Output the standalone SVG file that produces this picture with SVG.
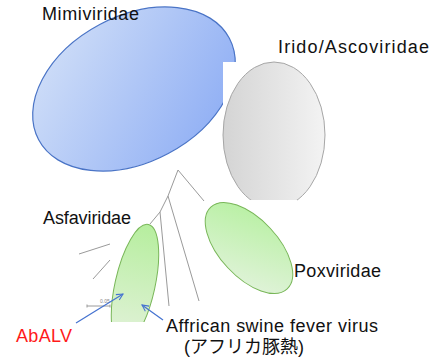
<svg xmlns="http://www.w3.org/2000/svg" width="431" height="359" viewBox="0 0 431 359">
<style>
.lbl{font-family:"Liberation Sans","Noto Sans CJK JP",Arial,sans-serif;font-size:18px;fill:#111}
.tree{stroke:#9a9a9a;stroke-width:1;fill:none}
.arr{stroke:#4472d0;stroke-width:1.2;fill:none;marker-end:url(#ah)}
</style>
<defs>
<linearGradient id="gBlue" x1="0" y1="0" x2="1" y2="1">
<stop offset="0" stop-color="#d6e3f8"/><stop offset="1" stop-color="#88a9f4"/>
</linearGradient>
<linearGradient id="gGrey" x1="0" y1="0" x2="1" y2="0">
<stop offset="0" stop-color="#d4d4d4"/><stop offset="1" stop-color="#f3f3f3"/>
</linearGradient>
<linearGradient id="gPox" x1="0" y1="0" x2="1" y2="1">
<stop offset="0" stop-color="#b3f09c"/><stop offset="1" stop-color="#e6f3e1"/>
</linearGradient>
<linearGradient id="gAsfa" x1="0" y1="0" x2="0" y2="1">
<stop offset="0" stop-color="#b6ee9e"/><stop offset="1" stop-color="#e4f2dc"/>
</linearGradient>
<clipPath id="cBlue"><path d="M0 0H431V62H223V359H0Z"/></clipPath>
<clipPath id="cGrey"><path d="M0 0H431V359H297V200H196V359H0Z"/></clipPath>
<clipPath id="cAsfa"><rect x="0" y="0" width="431" height="322"/></clipPath>
<marker id="ah" viewBox="0 0 10 10" refX="9" refY="5" markerWidth="8" markerHeight="8" markerUnits="userSpaceOnUse" orient="auto">
<path d="M1 1L9 5L1 9" fill="none" stroke="#4472d0" stroke-width="1.3"/>
</marker>
</defs>
<rect width="431" height="359" fill="#fff"/>

<g id="mimiviridae">
<g clip-path="url(#cBlue)">
<ellipse cx="134" cy="89" rx="108" ry="73" transform="rotate(-28 134 89)" fill="url(#gBlue)" stroke="#4a74c6" stroke-width="1.2"/>
</g>
<text class="lbl" x="42" y="20" textLength="97" lengthAdjust="spacing">Mimiviridae</text>
</g>

<g id="irido-ascoviridae">
<g clip-path="url(#cGrey)">
<ellipse cx="274" cy="135" rx="51" ry="73" fill="url(#gGrey)" stroke="#a6a6a6" stroke-width="1"/>
</g>
<text class="lbl" x="278" y="53" textLength="151" lengthAdjust="spacing">Irido/Ascoviridae</text>
</g>

<g id="poxviridae">
<ellipse cx="249" cy="248" rx="56" ry="29" transform="rotate(47 249 248)" fill="url(#gPox)" stroke="#78b658" stroke-width="1"/>
<text class="lbl" x="294" y="277" textLength="87" lengthAdjust="spacing">Poxviridae</text>
</g>

<g id="asfaviridae">
<g clip-path="url(#cAsfa)">
<ellipse cx="135" cy="285" rx="20" ry="62" transform="rotate(12.5 135 285)" fill="url(#gAsfa)" stroke="#78b658" stroke-width="1"/>
</g>
<text class="lbl" x="43" y="224" textLength="88" lengthAdjust="spacing">Asfaviridae</text>
</g>

<g id="connectors">
<g id="tree">
<polyline class="tree" points="204,201 178,170 168,196 160,212 150,224"/>
<line class="tree" x1="168" y1="196" x2="199" y2="301"/>
<line class="tree" x1="160" y1="212" x2="169" y2="306"/>
<line class="tree" x1="79" y1="254" x2="110" y2="244"/>
<line class="tree" x1="93" y1="279" x2="110" y2="260"/>
<path class="tree" d="M87 306H110M87 304.5V307.5M110 304.5V307.5"/>
<text x="100" y="303" font-family="Liberation Sans,sans-serif" font-size="5" fill="#888">0.05</text>
</g>
<line class="arr" x1="76" y1="323" x2="123" y2="294"/>
<line class="arr" x1="163" y1="320" x2="142" y2="305"/>
</g>

<g id="abalv">
<text class="lbl" x="16" y="342" textLength="56" lengthAdjust="spacing" style="fill:#ff1a1a">AbALV</text>
</g>

<g id="asfv">
<text class="lbl" x="166" y="332" textLength="212" lengthAdjust="spacing">Affrican swine fever virus</text>
<text class="lbl" x="184" y="353">(アフリカ豚熱)</text>
</g>
</svg>
